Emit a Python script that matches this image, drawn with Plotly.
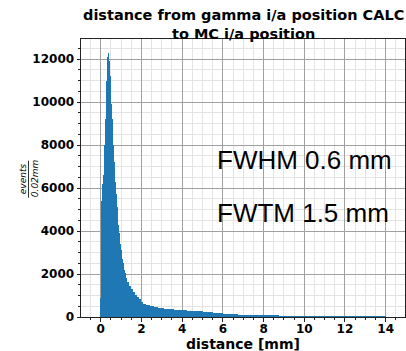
import plotly.graph_objects as go

# Histogram of distance (events per 0.02 mm)
fine_start = 0.0
fine_width = 0.02
fine_counts = [900, 3200, 4600, 5400, 5900, 6200, 6400, 6600, 7000, 7500,
               8000, 8600, 9200, 9700, 10300, 11000, 11600, 12100, 12300, 12200,
               11900, 11500, 11200, 10900, 10300, 9900, 9600, 9200, 8800, 8400,
               8000, 7600, 7200, 6800, 6500, 6300, 6000, 5700, 5400, 5100,
               4800, 4600, 4300, 4100, 3900, 3700, 3550, 3400, 3250, 3100,
               2950, 2800, 2700, 2600, 2500, 2400, 2300, 2200, 2120, 2040]
mid_start = 1.2
mid_width = 0.1
mid_counts = [1800, 1620, 1450, 1300, 1150, 1030, 930, 850,
              680, 620, 580, 550, 520, 500, 480, 460, 440, 425,
              410, 395, 380, 370, 360, 350, 340, 330, 320, 310]
tail_start = 4.0
tail_width = 0.25
tail_counts = [320, 300, 280, 260, 240, 215, 195, 175, 155, 140,
               125, 110, 98, 88, 78, 70, 62, 55, 48, 42,
               37, 32, 28, 24, 20, 17, 15, 13, 11, 9,
               8, 7, 6, 5, 4, 4, 3, 3, 2, 2]

title_lines = ["distance from gamma i/a position CALC", "to MC i/a position"]
x_label = "distance [mm]"
y_label_num = "events"
y_label_den = "0.02mm"
notes = ["FWHM 0.6 mm", "FWTM 1.5 mm"]
x_ticks = [0, 2, 4, 6, 8, 10, 12, 14]
y_ticks = [0, 2000, 4000, 6000, 8000, 10000, 12000]

xs, ws, ys = [], [], []
for start, width, counts in [(fine_start, fine_width, fine_counts),
                             (mid_start, mid_width, mid_counts),
                             (tail_start, tail_width, tail_counts)]:
    for i, c in enumerate(counts):
        left = start + i * width
        xs.append(left + width / 2)
        ws.append(width)
        ys.append(c)

fig = go.Figure()
fig.add_trace(go.Bar(x=xs, y=ys, width=ws,
                     marker=dict(color="#1f77b4", line=dict(width=0))))

tickfont = dict(family="DejaVu Sans", size=12, color="black", weight="bold")
axis_common = dict(
    showline=True, linecolor="#222", linewidth=1, mirror=True,
    ticks="outside", ticklen=3.5, tickcolor="#222", tickwidth=1,
    showgrid=True, gridcolor="#a0a0a0", gridwidth=1,
    zeroline=False, layer="above traces", tickfont=tickfont,
)
fig.update_xaxes(range=[-0.97, 14.95], tickvals=x_ticks,
                 ticktext=[str(v) for v in x_ticks], ticklabelstandoff=-3,
                 minor=dict(dtick=0.5, tick0=0, showgrid=True, gridcolor="#e3e3e3",
                            ticks="outside", ticklen=2, tickcolor="#222"),
                 **axis_common)
fig.update_yaxes(range=[0, 12930], tickvals=y_ticks,
                 ticktext=[str(v) for v in y_ticks],
                 minor=dict(dtick=500, tick0=0, showgrid=True, gridcolor="#e3e3e3",
                            ticks="outside", ticklen=2, tickcolor="#222"),
                 **axis_common)

fig.update_layout(
    width=406, height=351,
    margin=dict(l=81, r=1, t=39, b=34, autoexpand=False),
    plot_bgcolor="white", paper_bgcolor="white",
    showlegend=False, bargap=0,
)


def px_x(p):
    return (p - 81) / 324.0


def px_y(p):
    return (317.3 - p) / 278.0


# Title
fig.add_annotation(text="<br>".join(title_lines), xref="paper", yref="paper",
                   x=0.5, y=px_y(24.5), xanchor="center", yanchor="middle", showarrow=False,
                   font=dict(family="DejaVu Sans", size=14.5, color="black", weight="bold"))

# x label
fig.add_annotation(text=x_label, xref="paper", yref="paper",
                   x=px_x(243), y=px_y(353), xanchor="center", yanchor="bottom",
                   showarrow=False, borderpad=0,
                   font=dict(family="DejaVu Sans", size=14, color="black", weight="bold"))

# y label as a fraction
fig.add_annotation(text="<i>%s</i>" % y_label_num, xref="paper", yref="paper",
                   x=px_x(22.5), y=px_y(179), xanchor="center", yanchor="middle",
                   textangle=-90, showarrow=False,
                   font=dict(family="DejaVu Sans", size=9, color="black"))
fig.add_annotation(text="<i>%s</i>" % y_label_den, xref="paper", yref="paper",
                   x=px_x(34.5), y=px_y(179), xanchor="center", yanchor="middle",
                   textangle=-90, showarrow=False,
                   font=dict(family="DejaVu Sans", size=9, color="black"))
fig.add_shape(type="line", xref="paper", yref="paper",
              x0=px_x(28.5), x1=px_x(28.5), y0=px_y(161), y1=px_y(198),
              line=dict(color="black", width=0.8))

# FWHM / FWTM texts
fig.add_annotation(text=notes[0], x=5.6, y=7315, xref="x", yref="y",
                   xanchor="left", yanchor="middle", showarrow=False,
                   font=dict(family="Liberation Sans", size=26, color="black"))
fig.add_annotation(text=notes[1], x=5.6, y=4850, xref="x", yref="y",
                   xanchor="left", yanchor="middle", showarrow=False,
                   font=dict(family="Liberation Sans", size=26, color="black"))

fig.write_html("out.html")
